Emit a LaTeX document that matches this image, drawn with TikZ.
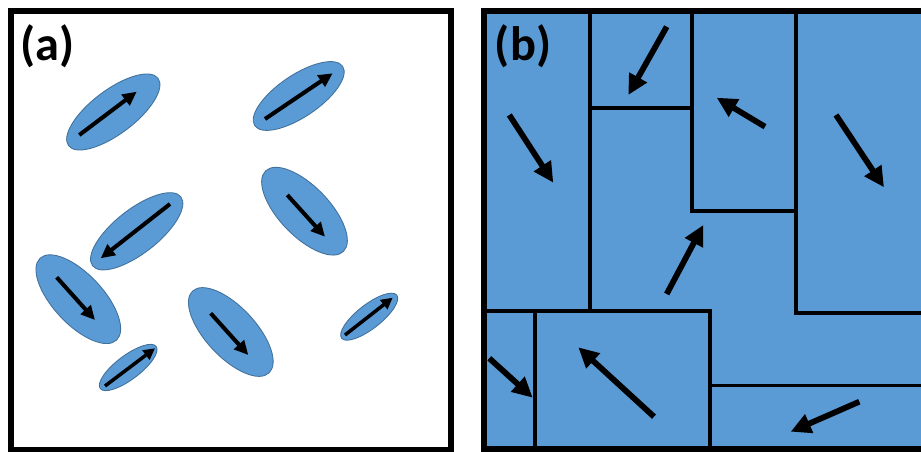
\documentclass[tikz,border=0pt]{standalone}
\usepackage{fontspec}
\setsansfont{Carlito}
\usetikzlibrary{arrows.meta}

\definecolor{grainfill}{RGB}{91, 155, 213}
\definecolor{grainedge}{RGB}{65, 113, 156}
\definecolor{wallcol}{RGB}{0, 0, 0}

\begin{document}
\begin{tikzpicture}[x=0.02cm, y=-0.02cm, font=\sffamily\bfseries,
    grain/.style={fill=grainfill, draw=grainedge, line width=0.5pt},
    spin/.style={wallcol, line width=2.3pt, -{Triangle[length=8pt, width=7.5pt]}},
    smallspin/.style={wallcol, line width=2pt, -{Triangle[length=6.5pt, width=6.5pt]}},
    bigspin/.style={wallcol, line width=3.3pt, -{Triangle[length=11.5pt, width=11pt]}},
    wall/.style={wallcol, line width=2.2pt},
    frame/.style={wallcol, line width=3.6pt},
    panel/.style={font=\sffamily\bfseries\fontsize{27.5}{33}\selectfont, inner sep=0pt}]
        \useasboundingbox (0,0) rectangle (921,452);
        \clip (0,0) rectangle (921,452);
        \def\Top{10.7}
        \def\Bot{449.5}

        % (a) separate grains
        \draw[frame] (11.2,11) rectangle (450.8,450);
        \draw[grain, rotate around={37:(113.3,112)}] (113.3,112) ellipse [x radius=56, y radius=22];
        \draw[grain, rotate around={34:(298.7,96)}] (298.7,96) ellipse [x radius=53, y radius=21];
        \draw[grain, rotate around={38:(136.7,231.3)}] (136.7,231.3) ellipse [x radius=56, y radius=22];
        \draw[grain, rotate around={-46:(304.5,211.2)}] (304.5,211.2) ellipse [x radius=56, y radius=25];
        \draw[grain, rotate around={-47:(78.3,299.2)}] (78.3,299.2) ellipse [x radius=56, y radius=25];
        \draw[grain, rotate around={-47:(230.8,332)}] (230.8,332) ellipse [x radius=56, y radius=25];
        \draw[grain, rotate around={37:(128.2,367.5)}] (128.2,367.5) ellipse [x radius=35, y radius=12];
        \draw[grain, rotate around={38:(369.2,316.7)}] (369.2,316.7) ellipse [x radius=35, y radius=12];

        % Moments in the grains
        \draw[spin] (79.3,135) -- (136.7,91.7);
        \draw[spin] (265,119) -- (332.7,73.3);
        \draw[spin] (170,204) -- (100.7,258.3);
        \draw[spin] (287.3,195) -- (325,236.7);
        \draw[spin] (56.7,277.3) -- (95,320);
        \draw[spin] (210.7,313.3) -- (248.3,355);
        \draw[smallspin] (105,386) -- (155,348.3);
        \draw[smallspin] (345,335) -- (392.7,297.7);

        % (b) domains
        \fill[grainfill] (483.7,\Top) rectangle (935,\Bot);
        \draw[wall] (589.7,\Top) -- (589.7,311);
        \draw[wall] (589.7,108.3) -- (692,108.3);
        \draw[wall] (692,\Top) -- (692,211) -- (796,211);
        \draw[wall] (796,\Top) -- (796,313.4) -- (935,313.4);
        \draw[wall] (483.7,311) -- (709.7,311) -- (709.7,\Bot);
        \draw[wall] (535,311) -- (535,\Bot);
        \draw[wall] (709.7,385.5) -- (935,385.5);
        \draw[frame] (940,\Top) -- (483.7,\Top) -- (483.7,\Bot) -- (940,\Bot);

        % Moments in the domains
        \draw[bigspin] (666.7,26.7) -- (628.3,95);
        \draw[bigspin] (509.3,115) -- (553.3,182.7);
        \draw[bigspin] (765,126.7) -- (716.7,97.7);
        \draw[bigspin] (836,115) -- (884,187.3);
        \draw[bigspin] (666.7,294) -- (703.3,225);
        \draw[bigspin] (489.3,358.3) -- (532.7,397.7);
        \draw[bigspin] (654,416.7) -- (578.3,347.3);
        \draw[bigspin] (859.3,401.7) -- (790.7,431.7);

        % Panel labels
        \node[panel] (laba) at (47.5,46) {(a)};
        \node[panel] (labb) at (523,46) {(b)};
\end{tikzpicture}
\end{document}
